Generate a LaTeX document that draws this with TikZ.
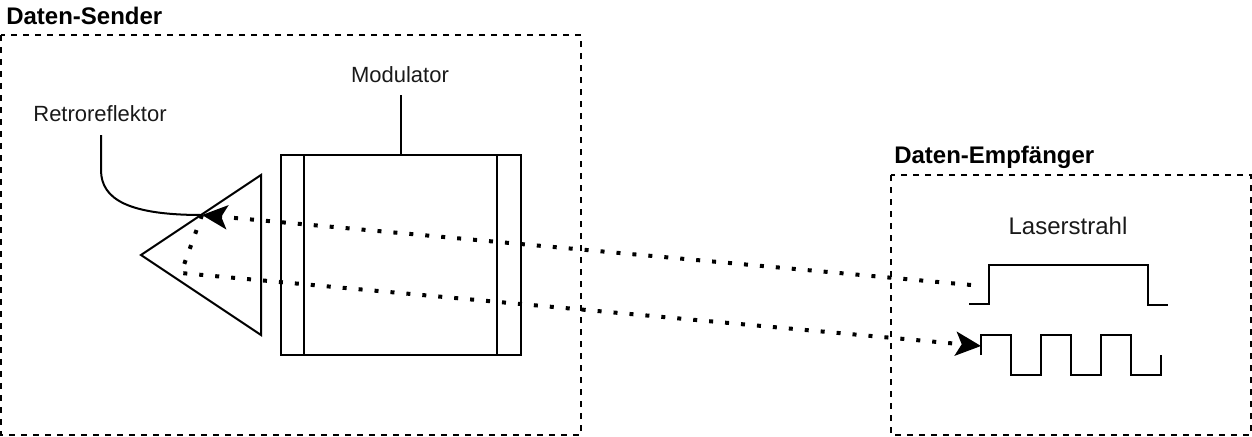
\documentclass[tikz,border=0pt]{standalone}
\usepackage{fontspec}
\setmainfont{Liberation Sans}
\usetikzlibrary{arrows.meta}
\tikzset{
  x=0.75pt,y=-0.75pt,
  line/.style={draw=black,line width=1.5pt},
  region/.style={draw=black,line width=1.5pt,dash pattern=on 4.5pt off 4.5pt},
  beam/.style={draw=black,line width=3pt,dash pattern=on 3pt off 9pt},
  label/.style={font=\fontsize{16.5pt}{20pt}\selectfont,inner sep=0pt,text=black!90,anchor=base},
  biglabel/.style={label,font=\fontsize{18pt}{20pt}\selectfont},
  title/.style={font=\fontsize{18pt}{20pt}\selectfont\bfseries,inner sep=0pt,anchor=base west},
  tip/.style={-{Stealth[length=19pt,width=18pt,inset=4.5pt]}}
}
\begin{document}
\begin{tikzpicture}
\useasboundingbox (0,0) rectangle (1252,436);
\node[title] (st) at (6,24) {Daten-Sender};
\node[title] (rt) at (894,163) {Daten-Empfänger};
\draw[region] (1,35) rectangle (581,435);
\draw[region] (891,175) rectangle (1251,435);
\node[label] (mod) at (400,82) {Modulator};
\node[label] (ret) at (100,121.5) {Retroreflektor};
\node[biglabel] (las) at (1068,234) {Laserstrahl};
\draw[line] (281,155) rectangle (521,355);
\draw[line] (304,155) -- (304,355);
\draw[line] (497,155) -- (497,355);
\coordinate (mt) at (401,155);
\coordinate (mb) at (401,95);
\draw[line] (mb) -- (mt);
\coordinate (ta) at (141,255);
\coordinate (tb) at (261,175);
\coordinate (tc) at (261,335);
\draw[line] (ta) -- (tb) -- (tc) -- cycle;
\coordinate (c0) at (101,135);
\coordinate (c1) at (202,215);
\draw[line] (c0) -- (101,170) .. controls (101,200) and (130,215) .. (c1);
\coordinate (l1) at (971,285);
\coordinate (k) at (181,273);
\coordinate (l3) at (981,346);
\draw[beam,tip] (l1) -- (c1);
\draw[beam,tip] (c1) -- (k) -- (l3);
\draw[line] (969,304) -- (989,304) -- (989,265) -- (1148,265) -- (1148,305) -- (1168,305);
\draw[line] (981,355) -- (981,335) -- (1011,335) -- (1011,375) -- (1041,375) -- (1041,335) -- (1071,335) -- (1071,375) -- (1101,375) -- (1101,335) -- (1131,335) -- (1131,375) -- (1161,375) -- (1161,355);
\end{tikzpicture}
\end{document}
